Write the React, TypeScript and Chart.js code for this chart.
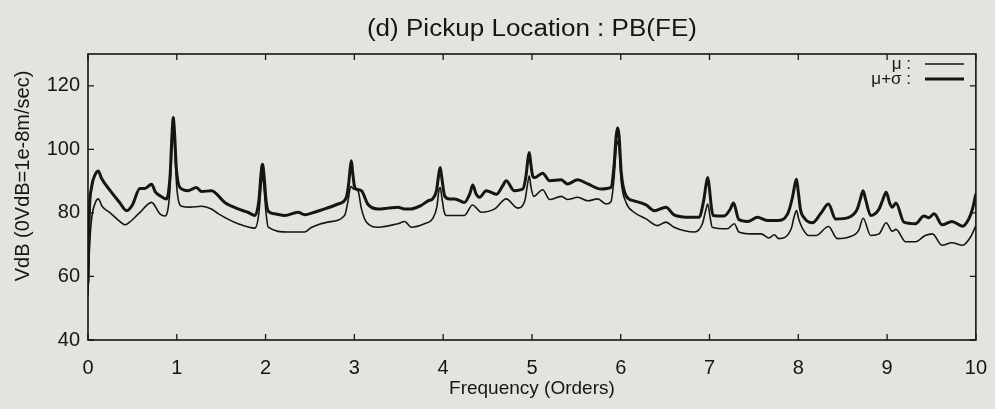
import React, { useEffect, useRef } from "react";
import { Chart, registerables } from "chart.js";

Chart.register(...registerables);

const FONT = "'Liberation Sans', Arial, Helvetica, sans-serif";
const TITLE = "(d) Pickup Location : PB(FE)";
const X_TITLE = "Frequency (Orders)";
const Y_TITLE = "VdB (0VdB=1e-8m/sec)";
const LEGEND_LABELS = ["\u03bc :", "\u03bc+\u03c3 :"];
const X_TICKS = [0, 1, 2, 3, 4, 5, 6, 7, 8, 9, 10];
const Y_TICKS = [40, 60, 80, 100, 120];

// μ (mean) curve
const muFreq = [
  0, 0.015, 0.04, 0.08, 0.116, 0.16, 0.25, 0.35, 0.416, 0.46, 0.58, 0.716, 0.81, 0.866,
  0.92, 0.945, 0.96, 0.975, 1.0, 1.054,
  1.15, 1.28, 1.39, 1.47, 1.69, 1.88,
  1.925, 1.948, 1.965, 1.982, 2.005, 2.03,
  2.25, 2.44, 2.52, 2.7, 2.89,
  2.93, 2.95, 2.965, 2.99, 3.04, 3.08,
  3.135, 3.265, 3.49, 3.566, 3.64, 3.79, 3.88,
  3.93, 3.952, 3.967, 3.985, 4.01, 4.035,
  4.24, 4.33, 4.43, 4.58, 4.71, 4.84, 4.92,
  4.945, 4.97, 4.99, 5.02,
  5.12, 5.2, 5.33, 5.4, 5.515, 5.63, 5.74, 5.835, 5.89,
  5.925, 5.948, 5.965, 5.982, 6.005, 6.06,
  6.15, 6.285, 6.41, 6.51, 6.6, 6.83, 6.92,
  6.955, 6.98, 7.005, 7.03,
  7.2, 7.28, 7.33, 7.47, 7.58, 7.67, 7.73, 7.78, 7.92,
  7.955, 7.98, 8.005, 8.05,
  8.12, 8.2, 8.34, 8.44, 8.57, 8.68, 8.73, 8.815, 8.91, 8.99, 9.06, 9.1, 9.21, 9.32, 9.43, 9.51, 9.62,
  9.73, 9.85, 9.94, 10.0,
];
const muVdB = [
  54, 68, 78, 83, 84.4, 82, 80, 77.5, 76.25, 76.9, 80, 83.3, 79.7, 79,
  86, 100, 105.2, 101, 88, 82.1,
  81.8, 82.1, 81.25, 79.7, 76.6, 75.2,
  80, 88, 91.7, 88, 80, 75.5,
  74, 74, 75.5, 77.1, 79.2,
  84, 87.5, 88.3, 87.5, 87, 81.25,
  77.1, 75.5, 76.6, 77.3, 75.5, 76.6, 78.1,
  82, 87, 88, 85, 80.5, 79.2,
  79.2, 82.5, 80.2, 81.25, 84.4, 81.5, 83.8,
  88, 91.7, 88, 85.2,
  87.3, 84.2, 85.2, 84.2, 84.9, 83.8, 84.4, 82.8, 83.5,
  91, 100, 102.6, 100, 90, 83.3,
  80.2, 78.1, 76, 77.1, 75.5, 74, 76.6,
  80.5, 82.8, 79, 75.5,
  75, 76.6, 74, 73.4, 73.4, 72.1, 73.1, 71.9, 75,
  79, 80.7, 78, 75,
  72.9, 72.9, 75.7, 71.9, 72.4, 74.5, 78.3, 72.9, 73.4, 76.9, 74.2, 74.8, 70.9, 70.9, 72.9, 73.4, 69.8,
  70.6, 69.8, 72.4, 76,
];

// μ+σ curve
const sigFreq = [
  0, 0.015, 0.04, 0.08, 0.116, 0.15, 0.25, 0.35, 0.435, 0.5, 0.585, 0.64, 0.716, 0.76, 0.81, 0.885,
  0.925, 0.945, 0.96, 0.975, 0.995, 1.035,
  1.13, 1.22, 1.28, 1.39, 1.54, 1.69, 1.8, 1.88,
  1.925, 1.948, 1.965, 1.982, 2.005, 2.03,
  2.1, 2.216, 2.366, 2.44, 2.55, 2.666, 2.816, 2.91,
  2.935, 2.953, 2.966, 2.98, 3.0, 3.02,
  3.08, 3.15, 3.265, 3.38, 3.49, 3.566, 3.64, 3.75, 3.83, 3.88,
  3.925, 3.95, 3.967, 3.985, 4.005, 4.016,
  4.07, 4.13, 4.24, 4.3, 4.334, 4.37, 4.41, 4.485, 4.6, 4.67, 4.71, 4.8, 4.897,
  4.935, 4.955, 4.97, 4.985, 5.005, 5.03,
  5.12, 5.2, 5.33, 5.4, 5.515, 5.63, 5.78, 5.89,
  5.925, 5.948, 5.965, 5.982, 6.005, 6.06,
  6.15, 6.285, 6.38, 6.51, 6.6, 6.79, 6.88,
  6.935, 6.962, 6.98, 6.998, 7.02, 7.04,
  7.165, 7.23, 7.27, 7.33, 7.43, 7.54, 7.65, 7.765, 7.88,
  7.935, 7.962, 7.98, 7.998, 8.025, 8.07,
  8.16, 8.25, 8.34, 8.42, 8.57, 8.665, 8.7, 8.73, 8.76, 8.815, 8.91, 8.95, 8.99, 9.03, 9.06, 9.1, 9.19,
  9.32, 9.415, 9.47, 9.53, 9.62, 9.73, 9.85, 9.92, 9.96, 10.0,
];
const sigVdB = [
  58, 80, 88, 92, 93.2, 91, 87, 83.5, 80.7, 82.5, 87.7, 87.7, 89, 86.5, 85.4, 84.4,
  92, 104, 110, 105, 94, 88,
  87, 88, 86.7, 87, 83.3, 81.25, 80.2, 79.2,
  84, 92, 95.3, 92, 84, 80.5,
  79.7, 79.2, 80.2, 79.4, 80.2, 81.25, 82.8, 84.9,
  89, 94, 96.4, 93, 88.5, 87.5,
  87, 82.8, 81.25, 81.5, 81.8, 81.25, 81.25, 82.3, 83.8, 84.4,
  87, 92, 94.3, 91, 87, 85.4,
  84.4, 84.4, 83.3, 86, 88.75, 86, 84.9, 87, 85.9, 88.5, 90.1, 87, 87.5,
  92, 97, 99, 96, 92, 91.1,
  92.5, 90.1, 90.4, 89.1, 90.4, 89.1, 87.5, 88,
  95, 104, 106.8, 104, 93, 85.4,
  83.8, 82.5, 80.7, 81.8, 79.4, 78.6, 78.6,
  84, 89, 91.1, 88, 82, 79.2,
  79, 81, 83.1, 77.9, 77.3, 78.6, 77.6, 77.6, 79.7,
  85, 89, 90.6, 87, 81, 78.3,
  76.9, 79.7, 82.8, 78.1, 78.6, 81.25, 84.5, 87, 84, 79.2, 81.25, 84, 86.5, 83, 81.8, 83.1, 77.1,
  76.6, 79, 78.5, 79.7, 76.25, 77.3, 75.8, 78.1, 81, 86,
];

const INK = "#151515";
const BG = "#e4e4de";

const decor = {
  id: "decor",
  afterDraw(chart: any) {
    const { ctx, chartArea } = chart;
    const { left, right, top, bottom } = chartArea;
    const xs = chart.scales.x;
    const ys = chart.scales.y;
    ctx.save();
    ctx.strokeStyle = INK;
    ctx.fillStyle = INK;
    ctx.lineWidth = 1.6;
    ctx.strokeRect(left, top, right - left, bottom - top);
    const tl = 6;
    ctx.lineWidth = 1.3;
    ctx.beginPath();
    X_TICKS.forEach((v) => {
      const px = xs.getPixelForValue(v);
      ctx.moveTo(px, bottom);
      ctx.lineTo(px, bottom - tl);
      ctx.moveTo(px, top);
      ctx.lineTo(px, top + tl);
    });
    Y_TICKS.forEach((v) => {
      const py = ys.getPixelForValue(v);
      ctx.moveTo(left, py);
      ctx.lineTo(left + tl, py);
      ctx.moveTo(right, py);
      ctx.lineTo(right - tl, py);
    });
    ctx.stroke();

    // title (narrow face)
    ctx.textAlign = "center";
    ctx.textBaseline = "middle";
    ctx.font = `23px ${FONT}`;
    const tw = ctx.measureText(TITLE).width;
    ctx.save();
    ctx.translate((left + right) / 2, 30);
    ctx.scale(330 / tw, 1);
    ctx.fillText(TITLE, 0, 0);
    ctx.restore();

    // x title
    ctx.font = `19px ${FONT}`;
    ctx.fillText(X_TITLE, (left + right) / 2, 389);

    // y title
    ctx.save();
    ctx.translate(23, 176);
    ctx.rotate(-Math.PI / 2);
    ctx.font = `20px ${FONT}`;
    ctx.fillText(Y_TITLE, 0, 0);
    ctx.restore();

    // legend
    ctx.font = `17px ${FONT}`;
    ctx.textAlign = "right";
    const rows = [64, 79];
    const widths = [1.6, 3];
    rows.forEach((ry, i) => {
      ctx.fillText(LEGEND_LABELS[i], 911, ry);
      ctx.lineWidth = widths[i];
      ctx.beginPath();
      ctx.moveTo(925, ry);
      ctx.lineTo(964, ry);
      ctx.stroke();
    });
    ctx.restore();
  },
};

export default function App() {
  const ref = useRef<HTMLCanvasElement | null>(null);
  useEffect(() => {
    if (!ref.current) return;
    const chart = new Chart(ref.current, {
      type: "line",
      data: {
        datasets: [
          {
            label: "\u03bc+\u03c3",
            data: sigFreq.map((f, i) => ({ x: f, y: sigVdB[i] })),
            borderColor: INK,
            borderWidth: 3,
            pointRadius: 0,
            cubicInterpolationMode: "monotone",
            fill: false,
          },
          {
            label: "\u03bc",
            data: muFreq.map((f, i) => ({ x: f, y: muVdB[i] })),
            borderColor: INK,
            borderWidth: 1.6,
            pointRadius: 0,
            cubicInterpolationMode: "monotone",
            fill: false,
          },
        ],
      },
      options: {
        animation: false,
        responsive: true,
        maintainAspectRatio: false,
        layout: { padding: { top: 54, right: 18, left: 0, bottom: 0 } },
        plugins: {
          legend: { display: false },
          title: { display: false },
          tooltip: { enabled: false },
        },
        scales: {
          x: {
            type: "linear",
            min: 0,
            max: 10,
            ticks: {
              stepSize: 1,
              color: INK,
              font: { family: FONT, size: 20 },
              padding: 8,
              maxRotation: 0,
            },
            grid: { display: false },
            border: { display: false },
            afterFit: (s: any) => {
              s.height = 69;
            },
          },
          y: {
            type: "linear",
            min: 40,
            max: 130,
            ticks: {
              stepSize: 20,
              color: INK,
              font: { family: FONT, size: 20 },
              padding: 0,
            },
            afterBuildTicks: (s: any) => {
              s.ticks = s.ticks.filter((t: any) => Y_TICKS.includes(t.value));
            },
            grid: { display: false },
            border: { display: false },
            afterFit: (s: any) => {
              s.width = 88;
            },
          },
        },
      },
      plugins: [decor],
    });
    return () => chart.destroy();
  }, []);
  return (
    <div
      style={{
        position: "absolute",
        left: 0,
        top: 0,
        width: 995,
        height: 409,
        background: BG,
      }}
    >
      <canvas ref={ref} />
    </div>
  );
}
